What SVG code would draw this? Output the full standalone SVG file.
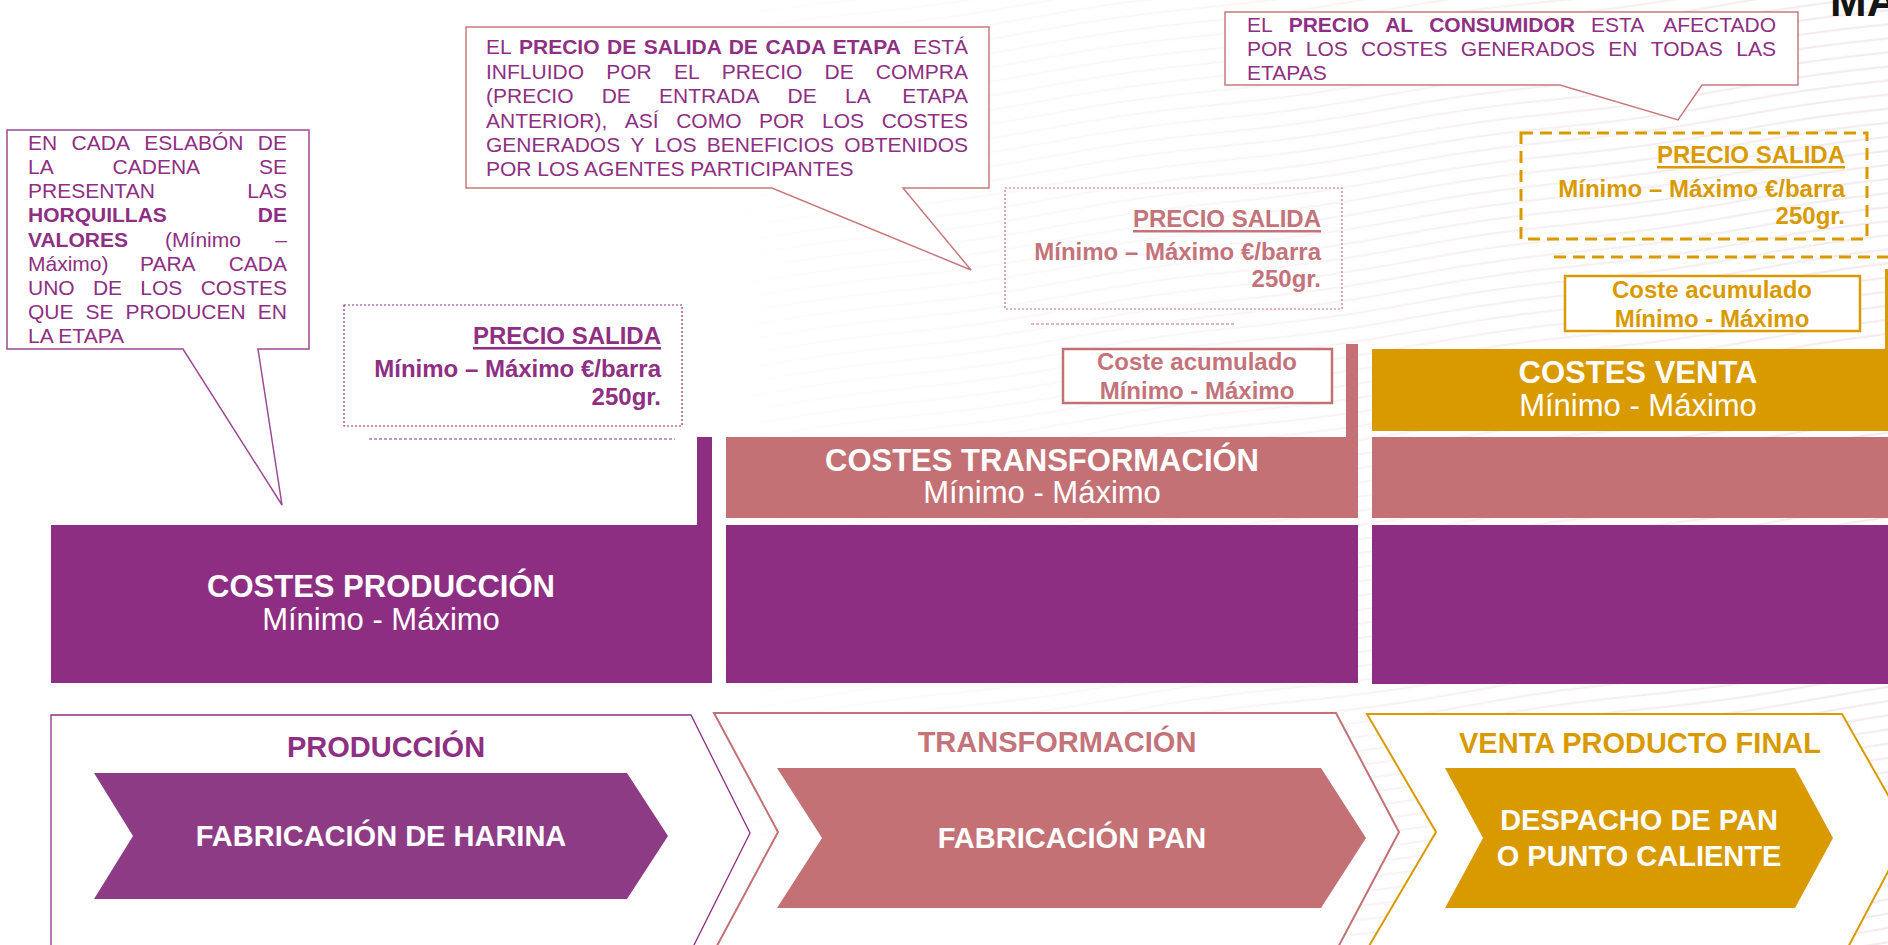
<svg xmlns="http://www.w3.org/2000/svg" width="1888" height="945" viewBox="0 0 1888 945">
<defs>
<style>
text{font-family:"Liberation Sans",Arial,Helvetica,sans-serif}
.cl{font-size:21px;fill:#8E2F83}
.b{font-weight:bold}
.e{text-anchor:end}
.pr{font-size:24px;font-weight:bold;text-anchor:end}
.ca{font-size:24px;font-weight:bold;text-anchor:middle}
.hd{font-size:31px;font-weight:bold;fill:#fff;text-anchor:middle}
.sb{font-size:31px;fill:#fff;text-anchor:middle}
.st{font-size:29px;font-weight:bold;text-anchor:middle}
.cw{font-size:29px;font-weight:bold;fill:#fff;text-anchor:middle}
.pu{fill:#8D2E82}.pk{fill:#C47176}.go{fill:#D99A00}
.callout{fill:#fff;stroke-width:1.5}
</style>
<pattern id="tex" patternUnits="userSpaceOnUse" width="340" height="14" patternTransform="rotate(-8)">
<path d="M0 7 Q85 3 170 7 T340 7" fill="none" stroke="#e9dcdf" stroke-width="2"/>
</pattern>
<linearGradient id="fade" x1="0" y1="0" x2="1" y2="0">
<stop offset="0.35" stop-color="#000"/>
<stop offset="1" stop-color="#9a9a9a"/>
</linearGradient>
<mask id="texmask"><rect width="1888" height="945" fill="url(#fade)"/></mask>
</defs>

<rect width="1888" height="945" fill="#fff"/>
<rect width="1888" height="945" fill="url(#tex)" mask="url(#texmask)"/>

<text x="1830" y="16" font-size="44" font-weight="bold" fill="#151515">MA</text>

<!-- cost blocks -->
<g id="col-produccion">
<path class="pu" d="M51,525 H697 V437 H712 V683 H51 Z"/>
<text class="hd" x="381" y="597">COSTES PRODUCCIÓN</text>
<text class="sb" x="381" y="630">Mínimo - Máximo</text>
</g>
<g id="col-transformacion">
<path class="pk" d="M726,437 H1346 V344 H1358 V518 H726 Z"/>
<rect class="pu" x="726" y="525" width="632" height="158"/>
<text class="hd" x="1042" y="471">COSTES TRANSFORMACIÓN</text>
<text class="sb" x="1042" y="503">Mínimo - Máximo</text>
</g>
<g id="col-venta">
<path class="go" d="M1372,349 H1885 V269 H1900 V431 H1372 Z"/>
<rect class="pk" x="1372" y="437" width="530" height="81"/>
<rect class="pu" x="1372" y="525" width="530" height="159"/>
<text class="hd" x="1638" y="383">COSTES VENTA</text>
<text class="sb" x="1638" y="416">Mínimo - Máximo</text>
</g>

<!-- price boxes -->
<g id="precio-produccion">
<rect x="344" y="305" width="338" height="121" fill="none" stroke="#8E2F83" stroke-width="1.2" stroke-dasharray="2 2"/>
<text class="pr" x="661" y="344" fill="#8E2F83">PRECIO SALIDA</text>
<rect x="473" y="347" width="188" height="2.5" fill="#8E2F83"/>
<text class="pr" x="661" y="377" fill="#8E2F83">Mínimo – Máximo €/barra</text>
<text class="pr" x="661" y="405" fill="#8E2F83">250gr.</text>
<line x1="369" y1="439" x2="675" y2="439" stroke="#8E2F83" stroke-width="1.2" stroke-dasharray="3 2"/>
</g>
<g id="precio-transformacion">
<rect x="1005" y="188" width="337" height="121" fill="none" stroke="#C47176" stroke-width="1.2" stroke-dasharray="2 2"/>
<text class="pr" x="1321" y="227" fill="#C4737A">PRECIO SALIDA</text>
<rect x="1133" y="230" width="188" height="2.5" fill="#C4737A"/>
<text class="pr" x="1321" y="260" fill="#C4737A">Mínimo – Máximo €/barra</text>
<text class="pr" x="1321" y="287" fill="#C4737A">250gr.</text>
<line x1="1031" y1="324" x2="1234" y2="324" stroke="#C47176" stroke-width="1.2" stroke-dasharray="3 2"/>
</g>
<g id="precio-venta">
<rect x="1521" y="133" width="346" height="106" fill="none" stroke="#D99A00" stroke-width="3" stroke-dasharray="12 7"/>
<text class="pr" x="1845" y="163" fill="#D99A00">PRECIO SALIDA</text>
<rect x="1657" y="166" width="188" height="2.5" fill="#D99A00"/>
<text class="pr" x="1845" y="197" fill="#D99A00">Mínimo – Máximo €/barra</text>
<text class="pr" x="1845" y="224" fill="#D99A00">250gr.</text>
<line x1="1554" y1="257" x2="1888" y2="257" stroke="#D99A00" stroke-width="3" stroke-dasharray="12 7"/>
</g>

<!-- accumulated cost boxes -->
<g id="acumulado-transformacion">
<rect x="1063" y="349" width="269" height="54" fill="#fff" stroke="#C47176" stroke-width="2.5"/>
<text class="ca" x="1197" y="370" fill="#C4737A">Coste acumulado</text>
<text class="ca" x="1197" y="399" fill="#C4737A">Mínimo - Máximo</text>
</g>
<g id="acumulado-venta">
<rect x="1565" y="276" width="295" height="55" fill="#fff" stroke="#D99A00" stroke-width="2.5"/>
<text class="ca" x="1712" y="298" fill="#D99A00">Coste acumulado</text>
<text class="ca" x="1712" y="327" fill="#D99A00">Mínimo - Máximo</text>
</g>

<!-- stage chevrons -->
<g id="etapa-produccion">
<path d="M51,715 H691 L750,833 L680,973 H51 Z" fill="#fff" stroke="#8E2F83" stroke-width="1.3"/>
<text class="st" x="386" y="757" fill="#8E2F83">PRODUCCIÓN</text>
<path d="M94,773 H627 L668,836 L627,899 H94 L133,836 Z" fill="#8E3B86"/>
<text class="cw" x="381" y="846">FABRICACIÓN DE HARINA</text>
</g>
<g id="etapa-transformacion">
<path d="M714,713 H1336 L1399,832 L1326,970 H704 L778,832 Z" fill="#fff" stroke="#C47176" stroke-width="2"/>
<text class="st" x="1057" y="752" fill="#C4737A">TRANSFORMACIÓN</text>
<path d="M777,768 H1321 L1366,838 L1321,908 H777 L822,838 Z" fill="#C47176"/>
<text class="cw" x="1072" y="848">FABRICACIÓN PAN</text>
</g>
<g id="etapa-venta">
<path d="M1367,714 H1842 L1909,832 L1836,970 H1355 L1436,832 Z" fill="#fff" stroke="#D99A00" stroke-width="2"/>
<text class="st" x="1640" y="753" fill="#D99A00">VENTA PRODUCTO FINAL</text>
<path d="M1445,768 H1795 L1833,838 L1795,908 H1445 L1483,838 Z" fill="#D99A00"/>
<text class="cw" x="1639" y="830">DESPACHO DE PAN</text>
<text class="cw" x="1639" y="866">O PUNTO CALIENTE</text>
</g>

<!-- callouts -->
<g id="callout-horquillas">
<path class="callout" d="M7,130 H309 V349 H258 L282,505 L183,349 H7 Z" stroke="#9B4A93"/>
<text class="cl" y="150"><tspan x="28">EN</tspan><tspan x="71.6">CADA</tspan><tspan x="144.3">ESLABÓN</tspan></text>
<text class="cl e" x="287" y="150">DE</text>
<text class="cl" y="174"><tspan x="28">LA</tspan><tspan x="112.6">CADENA</tspan></text>
<text class="cl e" x="287" y="174">SE</text>
<text class="cl" x="28" y="198">PRESENTAN</text>
<text class="cl e" x="287" y="198">LAS</text>
<text class="cl b" x="28" y="222">HORQUILLAS</text>
<text class="cl b e" x="287" y="222">DE</text>
<text class="cl" y="247"><tspan x="28" class="b">VALORES</tspan><tspan x="165.1">(Mínimo</tspan></text>
<text class="cl e" x="287" y="247">–</text>
<text class="cl" y="271"><tspan x="28">Máximo)</tspan><tspan x="140">PARA</tspan></text>
<text class="cl e" x="287" y="271">CADA</text>
<text class="cl" y="295"><tspan x="28">UNO</tspan><tspan x="92.9">DE</tspan><tspan x="140.3">LOS</tspan></text>
<text class="cl e" x="287" y="295">COSTES</text>
<text class="cl" y="319"><tspan x="28">QUE</tspan><tspan x="85.5">SE</tspan><tspan x="125.5">PRODUCEN</tspan></text>
<text class="cl e" x="287" y="319">EN</text>
<text class="cl" x="28" y="343">LA ETAPA</text>
</g>

<g id="callout-precio-salida">
<path class="callout" d="M466,27 H989 V188 H903 L971,270 L772,188 H466 Z" stroke="#C8797E"/>
<text class="cl" y="54"><tspan x="486">EL</tspan><tspan x="519" class="b" word-spacing="1.7">PRECIO DE SALIDA DE CADA ETAPA</tspan></text>
<text class="cl e" x="968" y="54">ESTÁ</text>
<text class="cl" y="79"><tspan x="486">INFLUIDO</tspan><tspan x="606.2">POR</tspan><tspan x="673.9">EL</tspan><tspan x="721.8">PRECIO</tspan><tspan x="824.5">DE</tspan></text>
<text class="cl e" x="968" y="79">COMPRA</text>
<text class="cl" y="103"><tspan x="486">(PRECIO</tspan><tspan x="601.7">DE</tspan><tspan x="659.1">ENTRADA</tspan><tspan x="787.6">DE</tspan><tspan x="845">LA</tspan></text>
<text class="cl e" x="968" y="103">ETAPA</text>
<text class="cl" y="128"><tspan x="486">ANTERIOR),</tspan><tspan x="624.8">ASÍ</tspan><tspan x="676.2">COMO</tspan><tspan x="759">POR</tspan><tspan x="822">LOS</tspan></text>
<text class="cl e" x="968" y="128">COSTES</text>
<text class="cl" y="152"><tspan x="486">GENERADOS</tspan><tspan x="630.4">Y</tspan><tspan x="654.6">LOS</tspan><tspan x="706.8">BENEFICIOS</tspan></text>
<text class="cl e" x="968" y="152">OBTENIDOS</text>
<text class="cl" x="486" y="176">POR LOS AGENTES PARTICIPANTES</text>
</g>

<g id="callout-precio-consumidor">
<path class="callout" d="M1225,12 H1798 V85 H1702 L1678,120 L1560,85 H1225 Z" stroke="#C8797E"/>
<text class="cl" y="32"><tspan x="1247">EL</tspan><tspan x="1288.7" class="b">PRECIO</tspan><tspan x="1385.2" class="b">AL</tspan><tspan x="1429.2" class="b">CONSUMIDOR</tspan><tspan x="1591">ESTA</tspan></text>
<text class="cl e" x="1776" y="32">AFECTADO</text>
<text class="cl" y="56"><tspan x="1247">POR</tspan><tspan x="1305.8">LOS</tspan><tspan x="1361.1">COSTES</tspan><tspan x="1460.8">GENERADOS</tspan><tspan x="1608.3">EN</tspan><tspan x="1650.8">TODAS</tspan></text>
<text class="cl e" x="1776" y="56">LAS</text>
<text class="cl" x="1247" y="80">ETAPAS</text>
</g>

<g id="connectors"></g>
</svg>
